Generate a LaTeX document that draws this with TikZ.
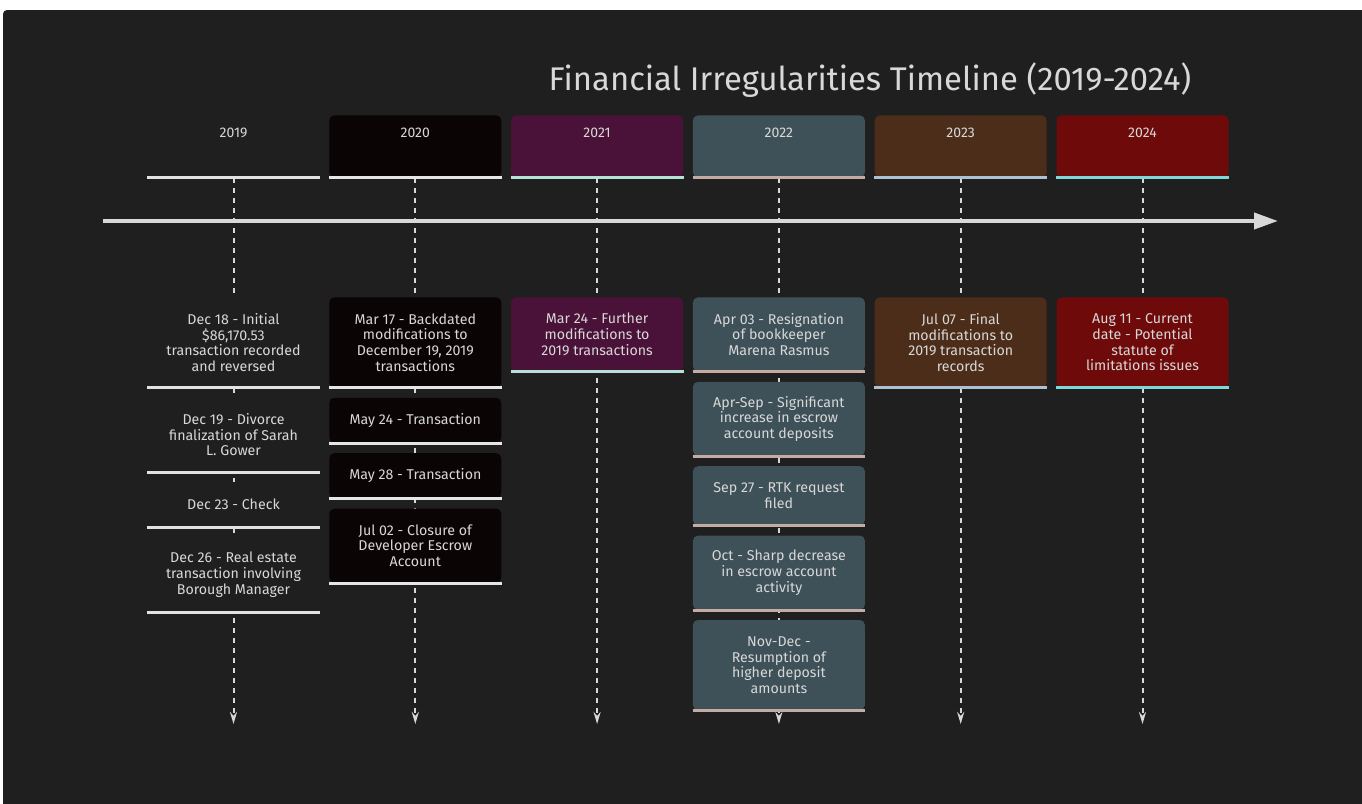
\documentclass[tikz,border=0pt]{standalone}
\usepackage{fontspec}
\setmainfont{Fira Sans}
\usepackage{tikz}
\usetikzlibrary{positioning,arrows.meta}
\definecolor{bg}{HTML}{1F1F1F}
\definecolor{txt}{HTML}{D8D8D8}
\definecolor{c19}{HTML}{1F1F1F}
\definecolor{c20}{HTML}{0B0405}
\definecolor{c21}{HTML}{4A1238}
\definecolor{c22}{HTML}{3E5058}
\definecolor{c23}{HTML}{4C2D19}
\definecolor{c24}{HTML}{6F0A0A}
\definecolor{b19}{HTML}{E2E2E2}
\definecolor{b20}{HTML}{E6E6E6}
\definecolor{b21}{HTML}{B4E2D6}
\definecolor{b22}{HTML}{C4ABA4}
\definecolor{b23}{HTML}{ADC1D6}
\definecolor{b24}{HTML}{7ED8D8}

\begin{document}
\begin{tikzpicture}[x=0.5pt,y=-0.5pt,
  yr/.style={fill=#1,rounded corners=2.5pt,minimum width=86pt,inner sep=0pt,anchor=north,text=txt,
    text height=11.25pt,text depth=19.75pt,font=\fontsize{7}{8}\selectfont},
  ev/.style={fill=#1,rounded corners=2.5pt,minimum width=86pt,inner sep=0pt,align=center,text=txt,
    font=\fontsize{7.1}{7.8}\selectfont},
  l1/.style={minimum height=22.5pt},l2/.style={minimum height=29.5pt},
  l3/.style={minimum height=37pt},l4/.style={minimum height=45pt},
  bar/.style={draw=#1,line width=1.5pt},
  vline/.style={draw=txt,line width=1pt,dash pattern=on 2.5pt off 2.5pt,-{Stealth[length=6pt,width=3.5pt]}},
  axis/.style={draw=txt,line width=2pt,-{Triangle[length=12pt,width=8pt]}},
  node distance=4.8pt]
  \useasboundingbox (0,0) rectangle (1362,804);
  \fill[white] (0,0) rectangle (1362,804);
  \fill[bg,rounded corners=2pt] (3,10) rectangle (1366,808);

  \node[text=txt,font=\fontsize{16.4}{18}\selectfont] (title) at (870,80) {Financial Irregularities Timeline (2019-2024)};

  \node[yr=c19] (h19) at (233.5,115) {2019};
  \node[yr=c20] (h20) at (415.3,115) {2020};
  \node[yr=c21] (h21) at (597.1,115) {2021};
  \node[yr=c22] (h22) at (778.9,115) {2022};
  \node[yr=c23] (h23) at (960.7,115) {2023};
  \node[yr=c24] (h24) at (1142.5,115) {2024};

  \foreach \x/\h in {233.5/h19,415.3/h20,597.1/h21,778.9/h22,960.7/h23,1142.5/h24}{
    \coordinate (t\h) at (\x,724);
    \draw[vline] (\h.south) -- (t\h);
  }

  \coordinate (axs) at (103,221);
  \coordinate (axe) at (1278,221);
  \draw[axis] (axs) -- (axe);

  \node[ev=c19,l4,anchor=north] (e11) at (233.5,297) {Dec 18 - Initial\\\$86,170.53\\transaction recorded\\and reversed};
  \node[ev=c19,l3,below=of e11] (e12) {Dec 19 - Divorce\\finalization of Sarah\\L. Gower};
  \node[ev=c19,l1,below=of e12] (e13) {Dec 23 - Check};
  \node[ev=c19,l3,below=of e13] (e14) {Dec 26 - Real estate\\transaction involving\\Borough Manager};

  \node[ev=c20,l4,anchor=north] (e21) at (415.3,297) {Mar 17 - Backdated\\modifications to\\December 19, 2019\\transactions};
  \node[ev=c20,l1,below=of e21] (e22) {May 24 - Transaction};
  \node[ev=c20,l1,below=of e22] (e23) {May 28 - Transaction};
  \node[ev=c20,l3,below=of e23] (e24) {Jul 02 - Closure of\\Developer Escrow\\Account};

  \node[ev=c21,l3,anchor=north] (e31) at (597.1,297) {Mar 24 - Further\\modifications to\\2019 transactions};

  \node[ev=c22,l3,anchor=north] (e41) at (778.9,297) {Apr 03 - Resignation\\of bookkeeper\\Marena Rasmus};
  \node[ev=c22,l3,below=of e41] (e42) {Apr-Sep - Significant\\increase in escrow\\account deposits};
  \node[ev=c22,l2,below=of e42] (e43) {Sep 27 - RTK request\\filed};
  \node[ev=c22,l3,below=of e43] (e44) {Oct - Sharp decrease\\in escrow account\\activity};
  \node[ev=c22,l4,below=of e44] (e45) {Nov-Dec -\\Resumption of\\higher deposit\\amounts};

  \node[ev=c23,l4,anchor=north] (e51) at (960.7,297) {Jul 07 - Final\\modifications to\\2019 transaction\\records};

  \node[ev=c24,l4,anchor=north] (e61) at (1142.5,297) {Aug 11 - Current\\date - Potential\\statute of\\limitations issues};

  \foreach \n/\c in {h19/b19,e11/b19,e12/b19,e13/b19,e14/b19,h20/b20,e21/b20,e22/b20,e23/b20,e24/b20,
    h21/b21,e31/b21,h22/b22,e41/b22,e42/b22,e43/b22,e44/b22,e45/b22,h23/b23,e51/b23,h24/b24,e61/b24}
    \draw[bar=\c] (\n.south west) -- (\n.south east);
\end{tikzpicture}
\end{document}
